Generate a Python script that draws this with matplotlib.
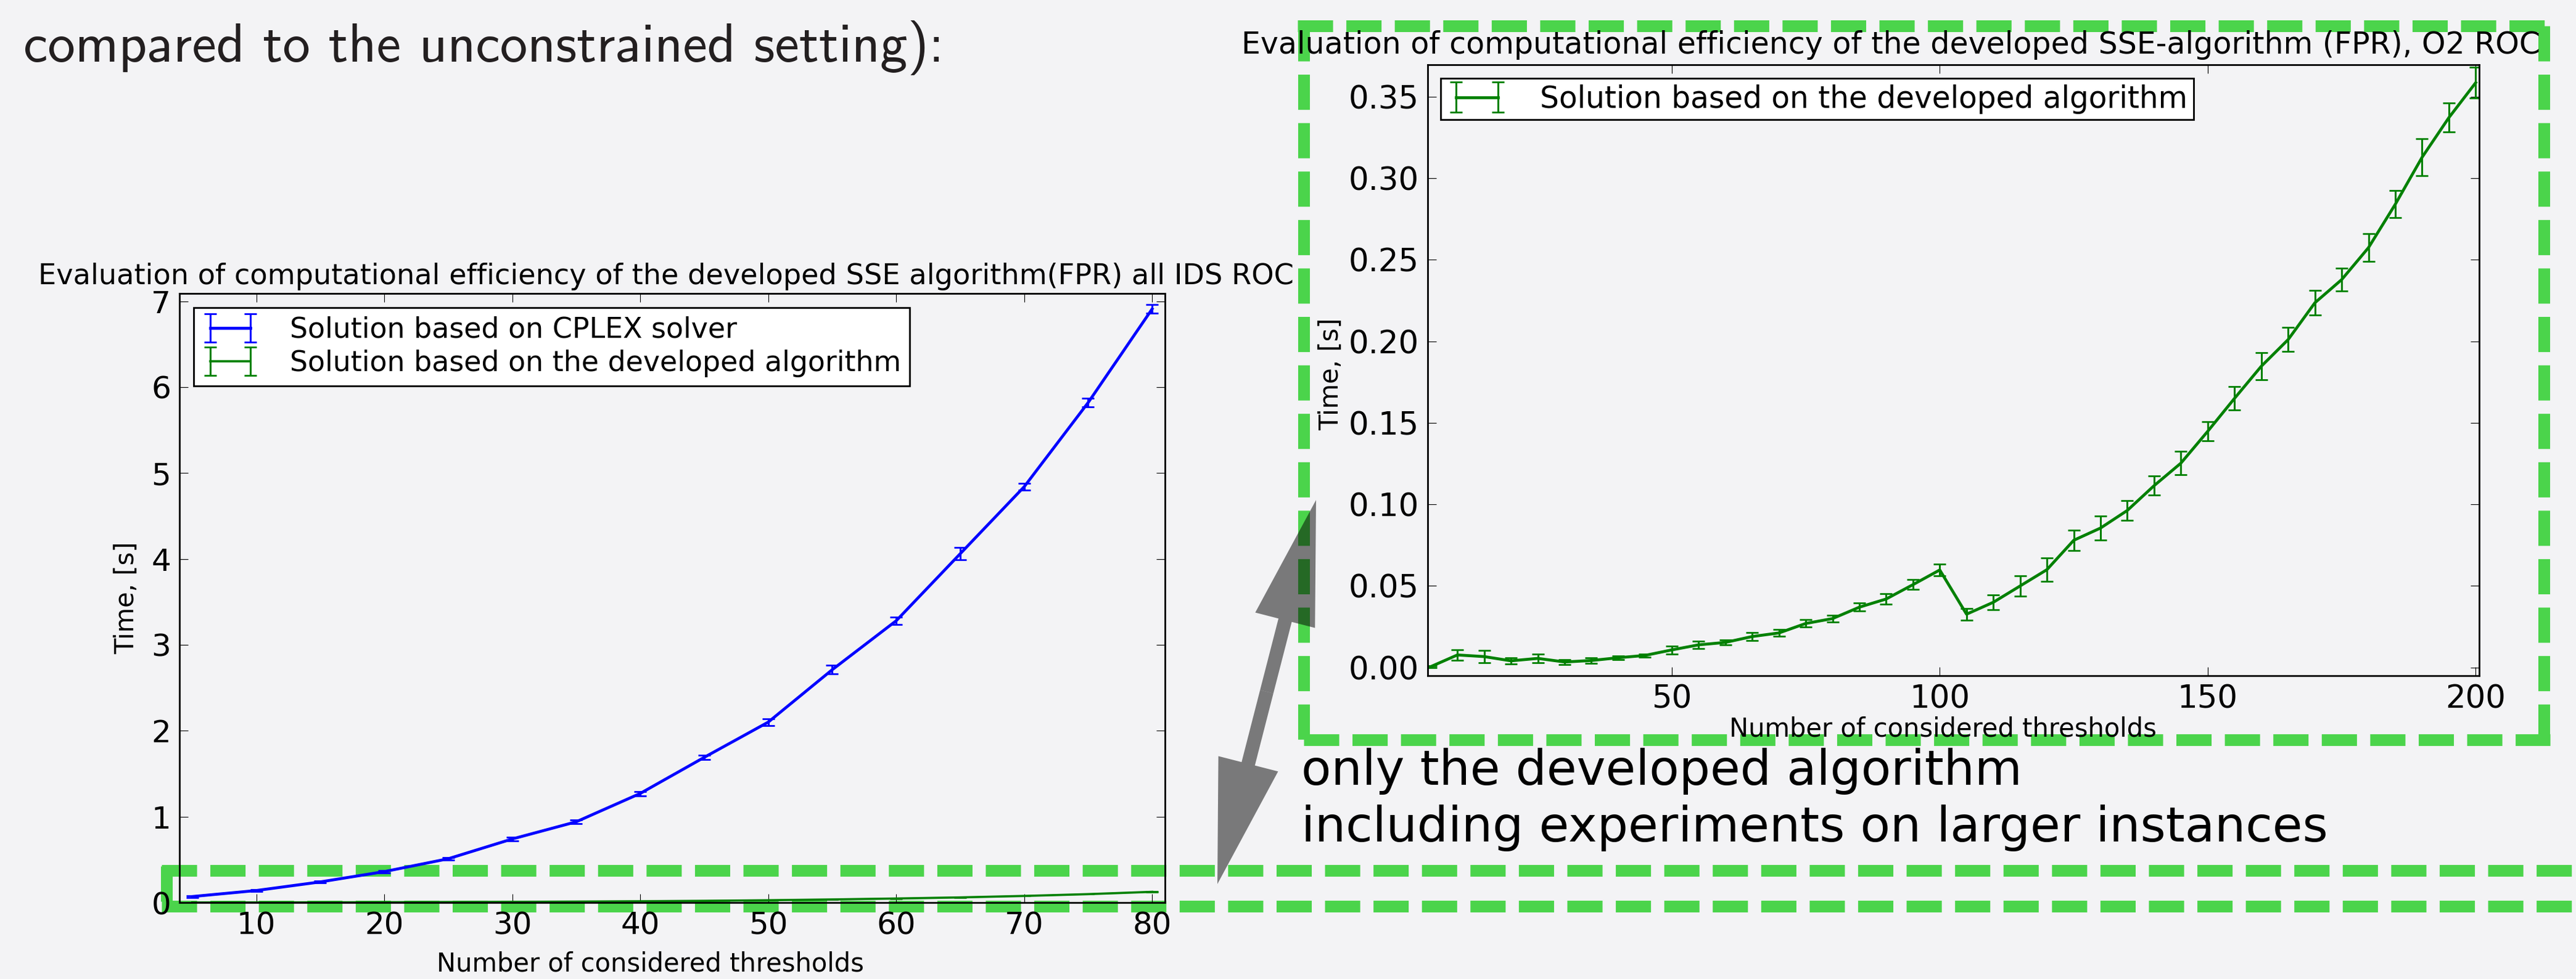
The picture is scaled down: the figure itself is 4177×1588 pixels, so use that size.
import matplotlib
matplotlib.use("Agg")
import matplotlib.pyplot as plt
from matplotlib.lines import Line2D
from matplotlib.patches import FancyArrowPatch

# ---- data ----
thresholds_small = [5, 10, 15, 20, 25, 30, 35, 40, 45, 50, 55, 60, 65, 70, 75, 80]
cplex_time = [0.07, 0.14, 0.24, 0.36, 0.51, 0.74, 0.94, 1.27, 1.69, 2.10, 2.71, 3.28, 4.06, 4.84, 5.82, 6.91]
cplex_err = [0.01, 0.012, 0.012, 0.015, 0.015, 0.02, 0.02, 0.025, 0.025, 0.037, 0.05, 0.04, 0.07, 0.04, 0.05, 0.05]
alg_time_small = [0.001, 0.002, 0.003, 0.004, 0.006, 0.008, 0.011, 0.015, 0.020, 0.027, 0.036, 0.047,
                  0.060, 0.077, 0.098, 0.125]
alg_err_small = [0.001] * 16

thresholds_large = list(range(5, 205, 5))
alg_time_large = [0.0005, 0.0077, 0.0067, 0.0041, 0.0056, 0.0034, 0.0043, 0.006, 0.0074, 0.0108,
                  0.0139, 0.0154, 0.019, 0.0212, 0.027, 0.030, 0.037, 0.042, 0.0508, 0.0598,
                  0.0327, 0.040, 0.050, 0.060, 0.078, 0.0855, 0.0963, 0.1115, 0.1253, 0.1448,
                  0.165, 0.1847, 0.201, 0.2236, 0.2378, 0.2574, 0.284, 0.3128, 0.3371, 0.3585]
alg_err_large = [0.0005, 0.0033, 0.0038, 0.002, 0.0025, 0.0015, 0.0018, 0.001, 0.001, 0.0025,
                 0.0023, 0.0015, 0.0024, 0.0022, 0.0023, 0.002, 0.0025, 0.0033, 0.003, 0.0036,
                 0.0036, 0.0046, 0.0064, 0.007, 0.0061, 0.0074, 0.0061, 0.0058, 0.0071, 0.0059,
                 0.0072, 0.0082, 0.0074, 0.0076, 0.007, 0.0084, 0.0084, 0.0114, 0.0089, 0.0093]

left_xticks = [10, 20, 30, 40, 50, 60, 70, 80]
left_yticks = [0, 1, 2, 3, 4, 5, 6, 7]
right_xticks = [50, 100, 150, 200]
right_yticks = [0.00, 0.05, 0.10, 0.15, 0.20, 0.25, 0.30, 0.35]

title_left = "Evaluation of computational efficiency of the developed SSE algorithm(FPR) all IDS ROC"
title_right = "Evaluation of computational efficiency of the developed SSE-algorithm (FPR), O2 ROC"
label_cplex = "Solution based on CPLEX solver"
label_alg = "Solution based on the developed algorithm"
xlabel = "Number of considered thresholds"
ylabel = "Time, [s]"

W, H, DPI = 4177, 1588, 100
BG = "#f3f3f5"
BOX_GREEN = "#4bd44b"

plt.rcParams["font.family"] = ["DejaVu Sans"]


def fx(px):
    return px / W


def fy(py):
    return 1 - py / H


def style_axes(ax, fs):
    ax.set_facecolor("none")
    for s in ax.spines.values():
        s.set_linewidth(2)
        s.set_color("black")
    ax.tick_params(direction="in", top=True, right=True, length=10, width=0.8,
                   labelsize=fs, pad=10)


def add_legend(ax, fs, **kw):
    leg = ax.legend(loc="upper left", fontsize=fs, fancybox=False, edgecolor="black",
                    framealpha=1, numpoints=2, handlelength=2.0, handletextpad=1.1, **kw)
    leg.get_frame().set_linewidth(2)
    return leg


fig = plt.figure(figsize=(W / DPI, H / DPI), dpi=DPI, facecolor=BG)

# left chart
axl = fig.add_axes([fx(291), fy(1464), (1889 - 291) / W, (1464 - 476) / H])
style_axes(axl, 36)
axl.errorbar(thresholds_small, cplex_time, yerr=cplex_err, color="#0000ff", lw=3.4,
             elinewidth=2.2, capsize=7, capthick=2, label=label_cplex)
axl.errorbar(thresholds_small, alg_time_small, yerr=alg_err_small, color="#008000", lw=2.6,
             elinewidth=2.2, capsize=7, capthick=2, label=label_alg)
axl.set_xlim(4, 81)
axl.set_ylim(0, 7.09)
axl.set_xticks(left_xticks)
axl.set_yticks(left_yticks)
axl.set_title(title_left, fontsize=33.3, x=0.494, pad=11)
axl.set_xlabel(xlabel, fontsize=30)
axl.xaxis.set_label_coords(0.478, -0.079)
axl.set_ylabel(ylabel, fontsize=30)
axl.yaxis.set_label_coords(-0.041, 0.5)
add_legend(axl, 33, labelspacing=0.2, borderpad=0.3, borderaxespad=0.5)

# right chart
axr = fig.add_axes([fx(2314.5), fy(1096), (4019.6 - 2314.5) / W, (1096 - 105) / H])
style_axes(axr, 37)
axr.errorbar(thresholds_large, alg_time_large, yerr=alg_err_large, color="#008000", lw=3.4,
             elinewidth=2.2, capsize=7, capthick=2, label=label_alg)
axr.set_xlim(4.4, 200.6)
axr.set_ylim(-0.005, 0.3695)
axr.set_xticks(right_xticks)
axr.set_yticks(right_yticks)
axr.set_yticklabels([f"{v:.2f}" for v in right_yticks])
axr.set_title(title_right, fontsize=35.3, x=0.441, pad=13)
axr.set_xlabel(xlabel, fontsize=30)
axr.xaxis.set_label_coords(0.49, -0.0656)
axr.set_ylabel(ylabel, fontsize=30)
axr.yaxis.set_label_coords(-0.0795, 0.494)
add_legend(axr, 35, borderpad=0.2, borderaxespad=0.45)


# green dashed highlight boxes (behind the charts)
def dashed(x0, y0, x1, y1):
    fig.add_artist(Line2D([fx(x0), fx(x1)], [fy(y0), fy(y1)], transform=fig.transFigure,
                          color=BOX_GREEN, lw=13.7, dashes=(3.0, 1.13),
                          dash_capstyle="butt", zorder=-1))


dashed(2104, 42, 4135, 42)
dashed(2114, 42, 2114, 1200)
dashed(4125, 42, 4125, 1200)
dashed(2114, 1200, 4135, 1200)
dashed(262, 1412, W, 1412)
dashed(262, 1470, W, 1470)
dashed(270, 1405, 270, 1470)

# double-headed arrow linking the two views
mid = (2054, 1122)
for tip in [(2134, 811), (1974, 1434)]:
    fig.add_artist(FancyArrowPatch((fx(mid[0]), fy(mid[1])), (fx(tip[0]), fy(tip[1])),
                                   transform=fig.transFigure,
                                   arrowstyle="simple,head_length=145,head_width=72,tail_width=16",
                                   mutation_scale=1, shrinkA=0, shrinkB=0, lw=0,
                                   color="black", alpha=0.5, zorder=5))

# slide text
fig.text(fx(38), fy(100), "compared to the unconstrained setting):", family="cmss10",
         fontsize=64, va="baseline", ha="left", color="#231f20")
fig.text(fx(2110), fy(1273), "only the developed algorithm", fontsize=57,
         va="baseline", ha="left")
fig.text(fx(2110), fy(1365), "including experiments on larger instances", fontsize=57,
         va="baseline", ha="left")

fig.savefig("out.png", dpi=DPI, facecolor=BG)
